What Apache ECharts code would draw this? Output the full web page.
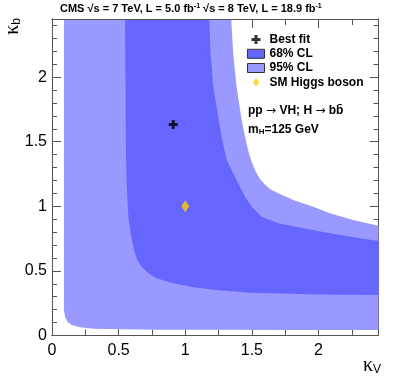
<!DOCTYPE html>
<html>
<head>
<meta charset="utf-8">
<script src="https://cdn.jsdelivr.net/npm/echarts@6/dist/echarts.min.js"></script>
<style>
html,body{margin:0;padding:0;background:#fff;}
#chart{width:399px;height:387px;}
</style>
</head>
<body>
<div id="chart"></div>
<script>
// ---- data ----
const xRange = [0, 2.45];
const yRange = [0, 2.45];
const xMajorTicks = [0, 0.5, 1, 1.5, 2];
const yMajorTicks = [0, 0.5, 1, 1.5, 2];

// 95% CL contour (kappa_V, kappa_b)
const cl95 = [[0.09,2.45],[0.09,1.5],[0.09,0.8],[0.09,0.3],[0.09,0.197],[0.098,0.146],[0.115,0.107],[0.148,0.081],[0.21,0.063],[0.31,0.053],[0.51,0.048],[0.81,0.045],[1.2,0.044],[1.8,0.043],[2.45,0.042],
  [2.45,0.85],[2.26,0.894],[2.085,0.946],[1.96,0.997],[1.81,1.049],[1.698,1.101],[1.64,1.13],[1.595,1.17],[1.56,1.214],[1.528,1.27],[1.5,1.34],[1.475,1.42],[1.45,1.53],[1.423,1.668],[1.385,1.926],[1.36,2.18],[1.345,2.45]];
// 68% CL contour
const cl68 = [[0.548,2.45],[0.552,1.9],[0.555,1.436],[0.56,1.178],[0.573,0.92],[0.59,0.791],[0.615,0.662],[0.64,0.584],[0.673,0.533],[0.723,0.481],[0.785,0.443],[0.91,0.404],[1.06,0.373],[1.236,0.352],[1.485,0.331],[2.0,0.318],[2.45,0.313],
  [2.45,0.731],[2.31,0.752],[2.085,0.791],[1.885,0.83],[1.698,0.868],[1.573,0.92],[1.498,0.997],[1.448,1.074],[1.41,1.152],[1.36,1.255],[1.311,1.358],[1.28,1.5],[1.25,1.67],[1.21,1.93],[1.19,2.18],[1.18,2.45]];
const bestFit = [[0.91, 1.633]];
const smHiggs = [[1.0, 1.0]];
const legendNames = ['Best fit', '68% CL', '95% CL', 'SM Higgs boson'];

// ---- chart ----
const FONT = '"Liberation Sans", Arial, Helvetica, sans-serif';
const GREEK = '"Liberation Serif", "DejaVu Serif", serif';
const AX = '#555';
const crossPath = 'path://M3,0H6V3H9V6H6V9H3V6H0V3H3Z';
const diamondPath = 'path://M4,0L8,6L4,12L0,6Z';

function polySeries(name, pts, color) {
  return {
    type: 'custom', name: name, data: [[0, 0]], clip: true, z: 2,
    itemStyle: { color: color },
    renderItem: function (params, api) {
      return { type: 'polygon', shape: { points: pts.map(p => api.coord(p)) }, style: { fill: color } };
    },
    silent: true
  };
}

function xAxisDef(pos, interval, len, labels) {
  return {
    type: 'value', position: pos, min: xRange[0], max: xRange[1], interval: interval,
    axisLine: { show: true, onZero: false, lineStyle: { color: AX, width: 1 } },
    axisTick: { show: true, inside: true, length: len, lineStyle: { color: AX } },
    splitLine: { show: false },
    axisLabel: labels ? { show: true, fontFamily: FONT, fontSize: 16, color: '#000', margin: 7, showMaxLabel: false,
      formatter: v => xMajorTicks.includes(v) ? String(v) : '' } : { show: false }
  };
}
function yAxisDef(pos, interval, len, labels) {
  return {
    type: 'value', position: pos, min: yRange[0], max: yRange[1], interval: interval,
    axisLine: { show: true, onZero: false, lineStyle: { color: AX, width: 1 } },
    axisTick: { show: true, inside: true, length: len, lineStyle: { color: AX } },
    splitLine: { show: false },
    axisLabel: labels ? { show: true, fontFamily: FONT, fontSize: 16, color: '#000', margin: 5, showMaxLabel: false,
      formatter: v => yMajorTicks.includes(v) ? String(v) : '' } : { show: false }
  };
}

const yMain = yAxisDef('left', 0.5, 9, true);
yMain.name = 'κ{sub|b}';
yMain.nameLocation = 'end';
yMain.nameRotate = 90;
yMain.nameGap = 1;
yMain.nameTextStyle = {
  fontFamily: GREEK, fontSize: 20, color: '#000', align: 'right', verticalAlign: 'middle',
  padding: [0, 0, 78, 0],
  rich: { sub: { fontSize: 12, fontFamily: FONT, color: '#000', verticalAlign: 'bottom', lineHeight: 6 } }
};

// top frame line drawn above the contours
const topFrame = xAxisDef('top', 0.5, 9, false);
topFrame.axisTick = { show: false };
topFrame.z = 5;

const chart = echarts.init(document.getElementById('chart'), null, { renderer: 'canvas' });
chart.setOption({
  animation: false,
  backgroundColor: '#fff',
  grid: { left: 52, top: 19, width: 326.5, height: 316.5, containLabel: false },
  xAxis: [
    xAxisDef('bottom', 0.5, 9, true),
    xAxisDef('top', 0.5, 9, false),
    xAxisDef('bottom', 0.25, 6, false),
    xAxisDef('top', 0.25, 6, false),
    topFrame
  ],
  yAxis: [
    yMain,
    yAxisDef('right', 0.5, 9, false),
    yAxisDef('left', 0.1, 5, false),
    yAxisDef('right', 0.1, 5, false)
  ],
  legend: {
    left: 247, top: 32.5, padding: 0, orient: 'vertical', itemWidth: 17, itemHeight: 9, itemGap: 0,
    selectedMode: false,
    textStyle: { fontFamily: FONT, fontSize: 12, fontWeight: 'bold', color: '#000', lineHeight: 14.2 },
    data: [
      { name: legendNames[0], icon: crossPath, itemStyle: { color: '#000' } },
      { name: legendNames[1], icon: 'rect', itemStyle: { color: '#6666ff', borderColor: '#333', borderWidth: 1 } },
      { name: legendNames[2], icon: 'rect', itemStyle: { color: '#9999ff', borderColor: '#333', borderWidth: 1 } },
      { name: legendNames[3], icon: diamondPath, itemStyle: { color: '#ffcc00' } }
    ]
  },
  series: [
    polySeries(legendNames[2], cl95, '#9999ff'),
    polySeries(legendNames[1], cl68, '#6666ff'),
    { type: 'scatter', name: legendNames[0], data: bestFit, symbol: crossPath, symbolSize: 9, itemStyle: { color: '#000' }, z: 5, silent: true },
    { type: 'scatter', name: legendNames[3], data: smHiggs, symbol: diamondPath, symbolSize: [8, 12], itemStyle: { color: '#ffcc00' }, z: 5, silent: true }
  ],
  graphic: [
    { type: 'text', left: 60, top: 3, silent: true,
      style: { text: 'CMS √s = 7 TeV, L = 5.0 fb{sup|-1} √s = 8 TeV, L = 18.9 fb{sup|-1}',
        font: 'bold 11px ' + FONT, fill: '#000',
        rich: { sup: { fontSize: 7, fontWeight: 'bold', fontFamily: FONT, verticalAlign: 'top', lineHeight: 6 } } } },
    { type: 'text', x: 248, y: 111, silent: true,
      style: { text: 'pp {arr|→} VH; H {arr|→} bb̄', font: 'bold 12px ' + FONT, fill: '#000', verticalAlign: 'middle',
        rich: { arr: { fontFamily: '"DejaVu Sans", sans-serif', fontWeight: 'normal', fontSize: 12 } } } },
    { type: 'text', x: 248, y: 130, silent: true,
      style: { text: 'm{sub|H}=125 GeV', font: 'bold 12px ' + FONT, fill: '#000', verticalAlign: 'middle',
        rich: { sub: { fontSize: 8, fontWeight: 'bold', fontFamily: FONT, verticalAlign: 'bottom', lineHeight: 4 } } } },
    { type: 'text', x: 381, y: 366, silent: true,
      style: { text: 'κ{sub|V}', font: '20px ' + GREEK, fill: '#000', align: 'right', verticalAlign: 'middle',
        rich: { sub: { fontSize: 12, fontFamily: FONT, verticalAlign: 'bottom', lineHeight: 6 } } } }
  ]
});
</script>
</body>
</html>
